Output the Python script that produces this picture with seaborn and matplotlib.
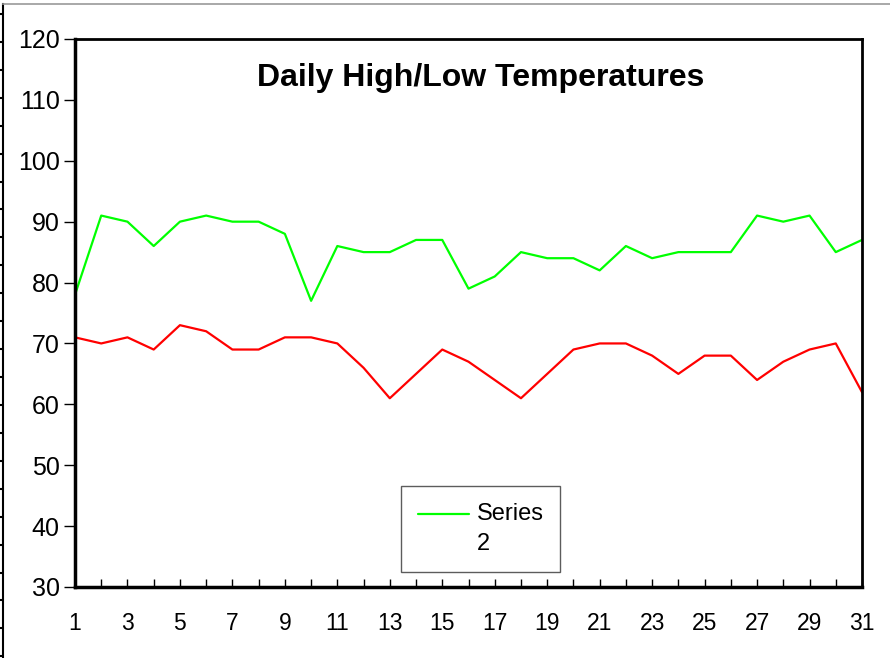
import numpy as np
import pandas as pd
import seaborn as sns
import matplotlib.pyplot as plt

days = list(range(1, 32))
highs = [78, 91, 90, 86, 90, 91, 90, 90, 88, 77, 86, 85, 85, 87, 87, 79,
         81, 85, 84, 84, 82, 86, 84, 85, 85, 85, 91, 90, 91, 85, 87]
lows = [71, 70, 71, 69, 73, 72, 69, 69, 71, 71, 70, 66, 61, 65, 69, 67,
        64, 61, 65, 69, 70, 70, 68, 65, 68, 68, 64, 67, 69, 70, 62]
title = "Daily High/Low Temperatures"
legend_label = "Series\n2"

df = pd.DataFrame({"day": days, "high": highs, "low": lows})

sns.set_theme(style="white")
plt.rcParams['font.family'] = ['Liberation Sans', 'DejaVu Sans']

fig = plt.figure(figsize=(8.9, 6.58), dpi=100)

# frame fragment on the left/top edge of the original screenshot
deco = fig.add_axes([3 / 890, 0, 1, 654 / 658])
deco.set_xlim(0, 1)
deco.set_ylim(658, 0)
deco.set_xticks([])
deco.set_yticks(np.arange(10, 658, 28.1))
deco.set_yticklabels([])
deco.tick_params(axis="y", direction="out", length=3, width=1.5, color="black", left=True)
for side in ["right", "bottom"]:
    deco.spines[side].set_visible(False)
deco.spines["left"].set_color("black")
deco.spines["left"].set_linewidth(1.5)
deco.spines["top"].set_color("#999999")
deco.spines["top"].set_linewidth(1.2)
deco.patch.set_alpha(0)

ax = fig.add_axes([75 / 890, 71 / 658, 787 / 890, 548 / 658])
sns.lineplot(data=df, x="day", y="high", color="#00ff00", linewidth=1.6,
             label=legend_label, ax=ax)
sns.lineplot(data=df, x="day", y="low", color="#ff0000", linewidth=1.6,
             label="_nolegend_", ax=ax)

ax.set_xlim(1, 31)
ax.set_ylim(30, 120)
ax.set_xticks(days)
ax.set_xticklabels([str(d) if d % 2 == 1 else "" for d in days])
ax.set_yticks(range(30, 121, 10))
ax.set_xlabel("")
ax.set_ylabel("")
ax.tick_params(axis="x", direction="in", length=6, width=1, color="black",
               bottom=True, labelsize=16.5, pad=18, labelcolor="black")
ax.tick_params(axis="y", direction="out", length=8, width=1, color="black",
               left=True, labelsize=18, pad=3, labelcolor="black")
for side in ax.spines:
    ax.spines[side].set_color("black")
    ax.spines[side].set_linewidth(2)
ax.spines["left"].set_linewidth(2.5)
ax.spines["bottom"].set_linewidth(2.5)

ax.text(0.516, 0.929, title, transform=ax.transAxes, ha="center", va="center",
        fontsize=23, fontweight="bold", color="black")

leg = ax.legend(loc="upper left", bbox_to_anchor=(326 / 787, 101 / 548),
                frameon=True, fancybox=False, shadow=False, fontsize=17,
                handlelength=2.2, handletextpad=0.3, borderpad=0.7,
                labelspacing=0.2, borderaxespad=0)
leg.get_frame().set_edgecolor("#333333")
leg.get_frame().set_linewidth(1)
for t in leg.get_texts():
    t.set_multialignment("left")
    t.set_linespacing(1.5)
    t.set_color("black")
# handle sits next to the first line of the wrapped label
for h in leg.legend_handles:
    h.set_ydata(np.asarray(h.get_ydata()) + 11)

fig.savefig("out.png", dpi=100)
